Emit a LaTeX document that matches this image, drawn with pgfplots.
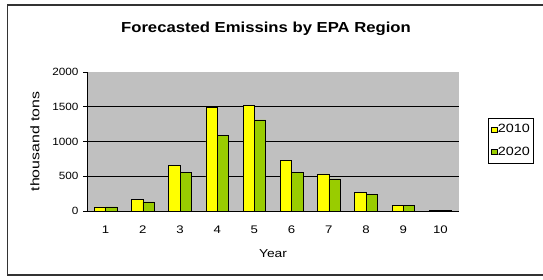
\documentclass[border=0pt]{standalone}
\usepackage{pgfplots}
\pgfplotsset{compat=1.18}
\usepackage{fontspec}
\setmainfont{Liberation Sans}[FakeStretch=1.12]
\newfontfamily\titlefont{Liberation Sans}[FakeStretch=1.15]
\newfontfamily\labfont{Liberation Sans}[FakeStretch=1.2]
\newfontfamily\ylabfont{Liberation Sans}[FakeStretch=1.27]
\definecolor{plotgray}{HTML}{C0C0C0}
\definecolor{ylw}{HTML}{FFFF00}
\definecolor{grn}{HTML}{99CC00}
\begin{document}
\begin{tikzpicture}[x=1pt,y=1pt]
\useasboundingbox (0,0) rectangle (543,279);
\begin{scope}
\clip (0,0) rectangle (543,279);
\draw[line width=1.2pt,black!80] (7.5,4) rectangle (560,274);
\end{scope}
\node[font=\titlefont\bfseries\fontsize{14.5}{17}\selectfont] at (266,250.5) {Forecasted Emissins by EPA Region};
\begin{axis}[
  at={(87pt,68pt)}, anchor=south west,
  scale only axis, width=372pt, height=139pt,
  xmin=0.5, xmax=10.5, ymin=0, ymax=2000,
  ybar=0pt, bar width=11.3pt,
  axis background/.style={fill=plotgray},
  axis x line*=bottom, axis y line*=left,
  axis line style={black, line width=0.9pt},
  xtick={1,...,10},
  extra x ticks={0.5,1.5,...,10.5},
  extra x tick labels={},
  extra x tick style={major tick length=4pt, tick style={black, line width=0.8pt}, tick align=outside},
  major x tick style={draw=none},
  ytick={0,500,1000,1500,2000},
  extra y ticks={500,1000,1500},
  extra y tick labels={},
  extra y tick style={ymajorgrids=true, major tick length=0pt},
  grid style={black, line width=1.1pt},
  y tick style={black, line width=0.8pt}, major tick length=4pt, tick align=outside,
  yticklabel style={font=\fontsize{10.5}{12}\selectfont, xshift=-1pt},
  xticklabel style={font=\labfont\fontsize{11}{12}\selectfont, yshift=-7pt},
  /pgf/number format/assume math mode=true,
  /pgf/number format/1000 sep={},
  xlabel={Year}, xlabel style={font=\labfont\fontsize{11.5}{13}\selectfont, yshift=-1pt},
  ylabel={thousand tons}, ylabel style={font=\ylabfont\fontsize{12.5}{14}\selectfont, yshift=2pt},
  legend style={at={(1.078,0.669)}, anchor=north west, draw=black, line width=0.6pt,
    font=\labfont\fontsize{12}{14}\selectfont, row sep=11pt, inner xsep=3pt, inner ysep=5pt,
    nodes={inner xsep=0pt, inner ysep=1pt},
    cells={anchor=west}},
  legend image code/.code={\draw[#1, line width=0.5pt] (0pt,-2.5pt) rectangle (6pt,2.5pt);},
  legend cell align=left,
]
\addplot[draw=black, fill=ylw, line width=0.5pt] coordinates {
(1,60) (2,170) (3,660) (4,1490) (5,1520) (6,725) (7,535) (8,273) (9,85) (10,12)};
\addplot[draw=black, fill=grn, line width=0.5pt] coordinates {
(1,60) (2,130) (3,560) (4,1090) (5,1310) (6,555) (7,462) (8,236) (9,85) (10,10)};
\legend{2010,2020}
\end{axis}
\end{tikzpicture}
\end{document}
